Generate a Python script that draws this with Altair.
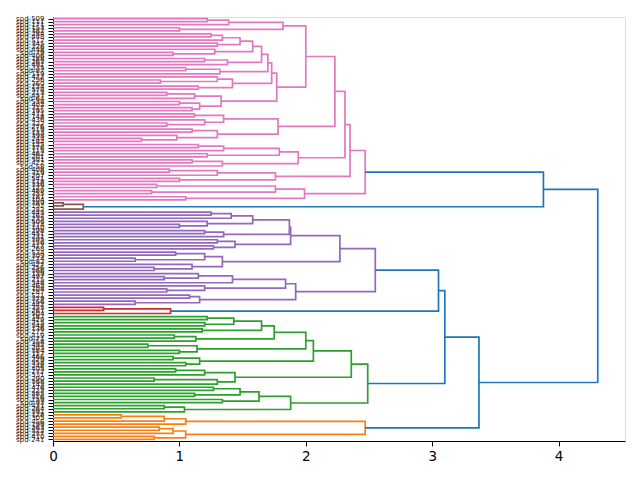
import json
import altair as alt
import pandas as pd

o = None  # a leaf; leaf names are filled in from LABELS, top to bottom

LABELS = [
    "spd-509", "spd-111", "spd-171", "spd-153", "spd-382", "spd-284", "spd-448", "spd-517",
    "spd-345", "spd-226", "spd-438", "spd-79", "spd-406", "spd-188", "spd-263", "spd-491",
    "spd-335", "spd-87", "spd-119", "spd-472", "spd-296", "spd-360", "spd-124", "spd-578",
    "spd-213", "spd-457", "spd-64", "spd-538", "spd-402", "spd-317", "spd-195", "spd-471",
    "spd-148", "spd-436", "spd-322", "spd-276", "spd-519", "spd-133", "spd-398", "spd-244",
    "spd-184", "spd-125", "spd-376", "spd-115", "spd-462", "spd-201", "spd-301", "spd-422",
    "spd-58", "spd-408", "spd-319", "spd-207", "spd-541", "spd-118", "spd-336", "spd-127",
    "spd-489", "spd-355", "spd-181", "spd-104",
    "spd-389", "spd-192", "spd-283",
    "spd-445", "spd-162", "spd-233", "spd-506", "spd-374", "spd-140", "spd-298", "spd-451",
    "spd-231", "spd-395", "spd-156", "spd-417", "spd-268", "spd-534", "spd-309", "spd-174",
    "spd-82", "spd-427", "spd-256", "spd-366", "spd-139", "spd-497", "spd-215", "spd-348",
    "spd-463", "spd-108", "spd-287", "spd-521", "spd-379", "spd-166", "spd-442",
    "spd-353", "spd-261", "spd-504",
    "spd-187", "spd-429", "spd-315", "spd-548", "spd-136", "spd-272", "spd-419", "spd-71",
    "spd-358", "spd-493", "spd-205", "spd-384", "spd-117", "spd-466", "spd-329", "spd-558",
    "spd-248", "spd-405", "spd-172", "spd-531", "spd-290", "spd-368", "spd-143", "spd-476",
    "spd-223", "spd-385", "spd-516", "spd-159", "spd-93", "spd-431", "spd-264", "spd-391",
    "spd-128", "spd-305", "spd-456", "spd-199", "spd-363", "spd-522", "spd-237", "spd-410",
    "spd-241",
]

# merges written as [height, upper branch, lower branch]
PINK_TOP = [1.82, [1.39, [1.22, o, o], o], [1.00, o, o]]
PINK_CHAIN = [1.77,
              [1.73,
               [1.70,
                [1.65,
                 [1.58,
                  [1.48, [1.34, [1.25, o, o], o], [1.30, o, o]],
                  [1.28, o, [0.95, o, o]]],
                 [1.38, [1.20, o, o], o]],
                [1.32, [1.05, o, o], o]],
               [1.42, [1.30, o, [0.85, o, o]], [1.15, o, o]]],
              [1.33, [1.12, [0.90, o, o], o], [1.16, [1.00, o, o], [1.10, o, o]]]]
PINK_3 = [1.78, [1.35, [1.12, o, o], [1.20, o, [0.90, o, o]]],
          [1.30, [1.10, o, o], [0.98, o, [0.70, o, o]]]]
PINK_4 = [1.94, [1.79, [1.35, [1.15, o, o], o], [1.22, o, o]], [1.34, [1.10, o, o], o]]
PINK_5 = [1.76, [1.30, [0.92, o, o], o], [1.00, o, o]]
PINK_6 = [1.99, [1.76, [0.82, o, o], [0.78, o, o]], [1.05, o, o]]
PINK = [2.47, [2.35, [2.31, [2.23, [2.00, PINK_TOP, PINK_CHAIN], PINK_3], PINK_4], PINK_5], PINK_6]

BROWN = [0.24, [0.08, o, o], o]

PURPLE_TOP = [1.88,
              [1.87, [1.58, [1.41, [1.25, o, o], o], [1.22, o, [1.00, o, o]]], [1.35, [1.20, o, o], o]],
              [1.44, [1.30, o, o], [1.27, o, o]]]
PURPLE_MID = [1.34, [1.20, [0.97, o, o], [0.65, o, o]], [1.10, o, [0.80, o, o]]]
PURPLE_LOW = [1.92,
              [1.84, [1.42, [1.15, o, [0.88, o, o]], o], [1.20, o, [0.90, o, o]]],
              [1.16, [1.08, o, o], [0.65, o, o]]]
PURPLE = [2.55, [2.27, PURPLE_TOP, PURPLE_MID], PURPLE_LOW]

RED = [0.93, [0.40, o, o], o]

GREEN_1 = [2.06,
           [2.00,
            [1.75, [1.65, [1.43, [1.22, o, o], [1.20, o, o]], [1.18, o, o]], [1.13, [0.96, o, o], o]],
            [1.14, [0.75, o, o], [1.00, o, o]]],
           [1.16, [0.95, o, o], [1.05, o, o]]]
GREEN_2 = [1.44, [1.20, [0.97, o, o], o], [1.30, [0.80, o, o], o]]
GREEN_3 = [1.88, [1.63, [1.48, [1.27, o, o], [1.12, o, o]], [1.34, o, o]], [1.04, [0.88, o, o], o]]
GREEN = [2.49, [2.36, GREEN_1, GREEN_2], GREEN_3]

ORANGE = [2.47, [1.05, [0.88, [0.54, o, o], o], o], [1.05, [0.95, [0.84, o, o], o], [0.80, o, o]]]

TREE = [4.31, [3.88, PINK, BROWN], [3.37, [3.10, [3.05, PURPLE, RED], GREEN], ORANGE]]

PALETTE = ["#ff7f0e", "#2ca02c", "#d62728", "#9467bd", "#8c564b", "#e377c2",
           "#7f7f7f", "#bcbd22", "#17becf"]
ABOVE_COLOR = "#1f77b4"


def n_leaves(node):
    return 1 if node is None else n_leaves(node[1]) + n_leaves(node[2])


N = n_leaves(TREE)
assert N == len(LABELS)
THRESHOLD = 0.7 * TREE[0]

# clusters below the threshold get palette colours, counted from the bottom leaf up
link_color = {}
_next = [0]


def paint(node, col=None):
    if node is None:
        return
    h, upper, lower = node
    if col is None and h < THRESHOLD:
        col = PALETTE[_next[0] % len(PALETTE)]
        _next[0] += 1
    link_color[id(node)] = col or ABOVE_COLOR
    paint(lower, col)
    paint(upper, col)


paint(TREE)

rows = []
_leaf = [0]


def place(node):
    """Return (y, height) of a node; leaf i from the top sits at 10*(N-1-i)+5."""
    if node is None:
        i = _leaf[0]
        _leaf[0] += 1
        return 10 * (N - 1 - i) + 5, 0.0
    h, upper, lower = node
    yu, hu = place(upper)
    yl, hl = place(lower)
    link = len(rows) // 4
    col = link_color[id(node)]
    for k, (xv, yv) in enumerate([(hu, yu), (h, yu), (h, yl), (hl, yl)]):
        rows.append({"link": link, "k": k, "x": xv, "y": yv, "c": col})
    return (yu + yl) / 2, h


place(TREE)
links = pd.DataFrame(rows)

tick_pos = [10 * j + 5 for j in range(N)]
bottom_up = json.dumps(LABELS[::-1])

FONT = "DejaVu Sans"

chart = alt.Chart(links).mark_line(strokeWidth=1.7, strokeJoin="miter").encode(
    x=alt.X("x:Q",
            scale=alt.Scale(domain=[0, TREE[0] * 1.05], nice=False, zero=False),
            axis=alt.Axis(values=[0, 1, 2, 3, 4], format="d", title=None, grid=False,
                          tickSize=5, tickColor="black", tickWidth=1,
                          domainColor="black", domainWidth=1,
                          labelFontSize=13.5, labelColor="black", labelFont=FONT,
                          labelPadding=3, labelFlush=False)),
    y=alt.Y("y:Q",
            scale=alt.Scale(domain=[0, 10 * N], nice=False, zero=False),
            axis=alt.Axis(values=tick_pos, title=None, grid=False,
                          labelExpr=f"{bottom_up}[round((datum.value - 5) / 10)]",
                          labelOverlap=False, labelFlush=False,
                          tickSize=5, tickColor="black", tickWidth=1,
                          domainColor="black", domainWidth=1,
                          labelFontSize=7, labelColor="#222222", labelFont=FONT,
                          labelPadding=4)),
    detail="link:N",
    order=alt.Order("k:Q"),
    color=alt.Color("c:N", scale=None),
).properties(
    width=572,
    height=424,
    autosize=alt.AutoSizeParams(type="none"),
    padding={"left": 53, "top": 17, "right": 15, "bottom": 39},
).configure_view(stroke=None).configure(background="white")

chart.save("out.html", embed_options={"renderer": "svg", "actions": False})
